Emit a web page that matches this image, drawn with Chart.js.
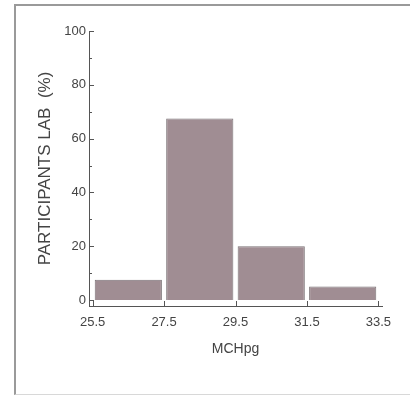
<!DOCTYPE html>
<html>
<head>
<meta charset="utf-8">
<script src="https://cdn.jsdelivr.net/npm/chart.js@4"></script>
<style>
  html, body { margin: 0; padding: 0; background: #fff; }
  #wrap { position: relative; width: 410px; height: 396px; }
  #frame { position: absolute; left: 14px; top: 4px; width: 400px; height: 388px;
           border-left: 2px solid #9a9a9a; border-top: 2px solid #9a9a9a; border-bottom: 1px solid #d8d8d8; }
  canvas { position: absolute; left: 0; top: 0; }
</style>
</head>
<body>
<div id="wrap">
  <div id="frame"></div>
  <canvas id="histChart" width="410" height="396"></canvas>
</div>
<script>
const binCenters = [26.5, 28.5, 30.5, 32.5];
const participants = [7.5, 67.5, 20, 5];
const xTicks = [25.5, 27.5, 29.5, 31.5, 33.5];
const yTicks = [0, 20, 40, 60, 80, 100];
const yMinorTicks = [10, 30, 50, 70, 90];

const ink = '#555';

// small tick marks pointing into the plot, like the original
const innerTicks = {
  id: 'innerTicks',
  afterDatasetsDraw(chart) {
    const { ctx, scales: { x, y } } = chart;
    ctx.save();
    ctx.strokeStyle = ink;
    ctx.lineWidth = 1;
    ctx.beginPath();
    yTicks.forEach(v => {
      const py = Math.round(y.getPixelForValue(v)) + 0.5;
      ctx.moveTo(y.right, py); ctx.lineTo(y.right + 5, py);
    });
    yMinorTicks.forEach(v => {
      const py = Math.round(y.getPixelForValue(v)) + 0.5;
      ctx.moveTo(y.right, py); ctx.lineTo(y.right + 3, py);
    });
    xTicks.forEach(v => {
      const px = Math.round(x.getPixelForValue(v)) + 0.5;
      ctx.moveTo(px, x.top); ctx.lineTo(px, x.top - 5);
    });
    ctx.stroke();
    ctx.restore();
  }
};

new Chart(document.getElementById('histChart'), {
  type: 'bar',
  data: {
    datasets: [{
      data: binCenters.map((c, i) => ({ x: c, y: participants[i] })),
      backgroundColor: '#a08d93',
      borderColor: '#7a7275',
      borderWidth: 1,
      barPercentage: 0.94,
      categoryPercentage: 1,
    }],
  },
  options: {
    responsive: false,
    animation: false,
    layout: { padding: { left: 35, top: 31, right: 28, bottom: 38 } },
    plugins: { legend: { display: false }, tooltip: { enabled: false } },
    scales: {
      x: {
        type: 'linear',
        offset: false,
        min: 25.4,
        max: 33.6,
        afterBuildTicks: s => { s.ticks = xTicks.map(v => ({ value: v })); },
        afterFit: s => { s.height = 52; },
        grid: { display: false, drawTicks: false, offset: false },
        border: { color: ink, width: 1 },
        ticks: { padding: 9, color: '#444', font: { family: 'Liberation Sans', size: 13 },
                 callback: v => v.toFixed(1) },
        title: { display: true, text: 'MCHpg', color: '#444',
                 font: { family: 'Liberation Sans', size: 14 }, padding: { top: 8, bottom: 0 } },
      },
      y: {
        min: -2.23,
        max: 100,
        afterBuildTicks: s => { s.ticks = yTicks.map(v => ({ value: v })); },
        afterFit: s => { s.width = 54; },
        grid: { display: false, drawTicks: false },
        border: { color: ink, width: 1 },
        ticks: { padding: 3, color: '#444', font: { family: 'Liberation Sans', size: 13 } },
        title: { display: true, text: 'PARTICIPANTS LAB  (%)', color: '#444',
                 font: { family: 'Liberation Sans', size: 17 }, padding: { top: 0, bottom: 0 } },
      },
    },
  },
  plugins: [innerTicks],
});
</script>
</body>
</html>
